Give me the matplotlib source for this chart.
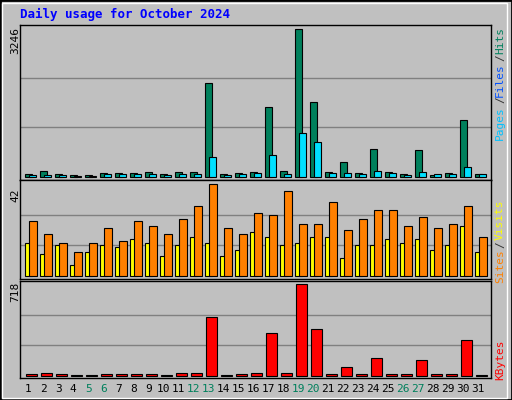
import matplotlib
matplotlib.use("Agg")
import matplotlib.pyplot as plt
from matplotlib.patches import Rectangle

days = list(range(1, 32))
hits = [59,117,59,29,29,73,73,73,95,59,95,95,2056,59,73,95,1527,117,3246,1638,95,316,73,602,95,59,580,44,73,1241,59]
files = [29,29,29,5,5,59,59,59,59,29,59,59,426,29,59,73,470,59,955,756,73,73,59,117,73,29,95,59,59,206,59]
visits = [15,10,14,5,11,14,13,17,15,9,14,18,15,9,12,20,18,14,15,18,18,8,14,14,17,15,17,12,14,23,11]
sites = [25,19,15,11,15,22,16,25,23,19,26,32,42,22,19,29,28,39,24,24,34,21,26,30,30,23,27,22,24,32,18]
kbytes = [16,26,16,10,10,16,16,16,16,10,26,26,459,10,16,26,333,26,718,364,16,73,16,136,16,16,128,16,16,278,10]
weekend = [5,6,12,13,19,20,26,27]

BG = "#C0C0C0"
fig = plt.figure(figsize=(5.12, 4.0), dpi=100, facecolor=BG)
fig.patches.append(Rectangle((0, 0), 1, 1, transform=fig.transFigure, fill=False,
                             edgecolor="black", linewidth=2))
fig.patches.append(Rectangle((2/512, 2/400), 505/512, 395/400, transform=fig.transFigure, fill=False,
                             edgecolor="white", linewidth=1))
mono = "DejaVu Sans Mono"

def mkax(top, bot):
    ax = fig.add_axes([20/512, (400-bot)/400, 471/512, (bot-top)/400])
    ax.set_facecolor(BG)
    for s in ax.spines.values():
        s.set_color("black"); s.set_linewidth(1)
    ax.set_xlim(0.5, 31.9)
    ax.set_xticks([]); ax.set_yticks([])
    return ax

def grid(ax, m):
    for f in (1/3, 2/3):
        ax.axhline(m*f, color="#808080", lw=1, zorder=0)

ax1 = mkax(25, 180)
ax1.set_ylim(-73, 3334)
grid(ax1, 3246)
xs = [d-0.17 for d in days]
ax1.bar(xs, hits, width=0.5, align="edge", color="#00805C", edgecolor="black", lw=0.8, zorder=2)
ax1.bar([d+0.1 for d in days], files, width=0.47, align="edge", color="#00E0FF", edgecolor="black", lw=0.8, zorder=3)

ax2 = mkax(180, 279)
ax2.set_ylim(-1.5, 44)
grid(ax2, 42)
ax2.bar(xs, visits, width=0.5, align="edge", color="#FFFF00", edgecolor="black", lw=0.8, zorder=2)
ax2.bar([d+0.1 for d in days], sites, width=0.53, align="edge", color="#FF8000", edgecolor="black", lw=0.8, zorder=3)

ax3 = mkax(281, 378)
ax3.set_ylim(-17, 744)
grid(ax3, 718)
ax3.bar([d-0.1 for d in days], kbytes, width=0.7, align="edge", color="#FF0000", edgecolor="black", lw=0.8, zorder=2)

for d in days:
    ax3.text(d+0.05, -0.11, str(d), transform=ax3.get_xaxis_transform(), ha="center", va="center",
             fontsize=8, family=mono, color="#00805C" if d in weekend else "black")

fig.text(20/512, 1-14/400, "Daily usage for October 2024", color="#0000FF", fontsize=9,
         fontweight="bold", family=mono, va="center")
for y, t in ((40, "3246"), (195, "42"), (292, "718")):
    fig.text(15/512, 1-y/400, t, rotation=90, ha="center", va="center", fontsize=8, family=mono)

def rlab(parts):
    for y, t, c in parts:
        fig.text(500/512, 1-y/400, t, rotation=90, ha="center", va="center", fontsize=8,
                 family=mono, color=c)
rlab([(40, "Hits", "#00805C"), (58, "/", "#303030"), (80, "Files", "#0050FF"),
      (100, "/", "#303030"), (123, "Pages", "#00C0FF"),
      (220, "Visits", "#FFFF00"), (245, "/", "#303030"), (266, "Sites", "#FF8000"),
      (360, "KBytes", "#FF0000")])

fig.savefig("out.png", dpi=100, facecolor=BG)
